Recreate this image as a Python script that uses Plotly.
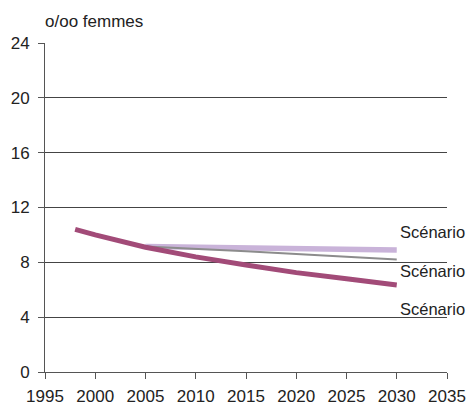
import plotly.graph_objects as go

years_obs = [1998, 2000, 2005, 2010, 2015, 2020, 2025, 2030]
scen_low = [10.4, 10.0, 9.1, 8.4, 7.8, 7.25, 6.8, 6.35]
years_scen = [2005, 2010, 2015, 2020, 2025, 2030]
scen_high = [9.15, 9.1, 9.05, 9.0, 8.95, 8.9]
scen_mid = [9.15, 9.0, 8.8, 8.6, 8.4, 8.2]
label_text = ["Scénario", "Scénario", "Scénario"]
label_y = [10.2, 7.4, 4.6]
y_ticks = [0, 4, 8, 12, 16, 20, 24]
x_ticks = [1995, 2000, 2005, 2010, 2015, 2020, 2025, 2030, 2035]

FONT = "Liberation Sans, Arial, sans-serif"

fig = go.Figure()
fig.add_trace(go.Scatter(x=years_scen, y=scen_high, mode="lines",
                         line=dict(color="#C9B3D9", width=5.5), cliponaxis=False))
fig.add_trace(go.Scatter(x=years_scen, y=scen_mid, mode="lines",
                         line=dict(color="#8C8C8C", width=2), cliponaxis=False))
fig.add_trace(go.Scatter(x=years_obs, y=scen_low, mode="lines",
                         line=dict(color="#A24B78", width=5), cliponaxis=False))

for t, yv in zip(label_text, label_y):
    fig.add_annotation(x=2030.1, y=yv, text=t, showarrow=False, xanchor="left",
                       yanchor="middle", font=dict(size=16.5, color="#222222", family=FONT))

fig.add_annotation(xref="paper", yref="paper", x=0, y=1, yshift=10, text="o/oo femmes",
                   showarrow=False, xanchor="left", yanchor="bottom", xshift=-2,
                   font=dict(size=17, color="#222222", family=FONT))

fig.update_layout(
    width=469, height=412,
    margin=dict(l=45, r=22, t=43, b=40, autoexpand=False),
    plot_bgcolor="white", paper_bgcolor="white",
    showlegend=False,
    font=dict(family=FONT, size=17, color="#222222"),
)
fig.update_xaxes(range=[1995, 2035], tickvals=x_ticks, showgrid=False, automargin=False,
                 showline=True, linecolor="#555555", linewidth=1,
                 ticks="outside", ticklen=6, tickcolor="#555555", zeroline=False,
                 tickfont=dict(size=17), ticklabelstandoff=3)
fig.update_yaxes(range=[0, 24], tickvals=y_ticks, showgrid=True, gridcolor="#444444",
                 gridwidth=1, showline=True, linecolor="#555555", linewidth=1, automargin=False,
                 ticks="outside", ticklen=6, tickcolor="#555555", zeroline=False,
                 tickfont=dict(size=17), ticklabelstandoff=5)

fig.write_html("out.html", config={"displayModeBar": False},
               post_script="document.body.style.margin='0';document.body.style.padding='0';")
